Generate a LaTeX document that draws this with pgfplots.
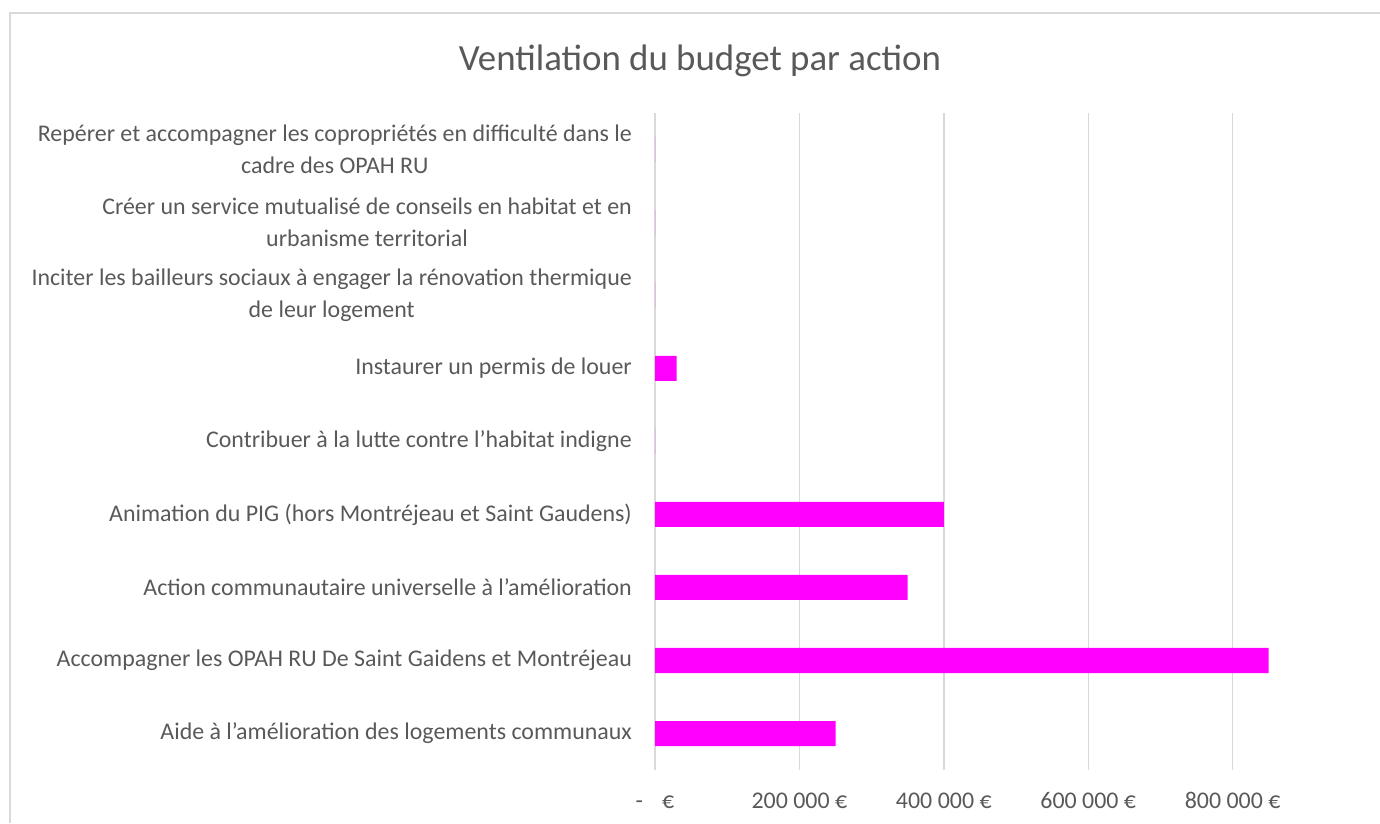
\documentclass[border=0pt]{standalone}
\usepackage{pgfplots}
\pgfplotsset{compat=1.18}
\usepackage{fontspec}
\setmainfont{Carlito}
\definecolor{txt}{HTML}{595959}
\definecolor{gridc}{HTML}{D9D9D9}
\definecolor{barc}{HTML}{FF00FF}
\pgfplotstableread{
y v
0 250000
1 850000
2 350000
3 400000
4 0
5 30000
6 0
7 0
8 0
}\budget
\begin{document}
\begin{tikzpicture}[x=1bp,y=1bp]
\begin{axis}[
  at={(655bp,53bp)}, anchor=south west,
  scale only axis, width=722bp, height=657bp,
  xmin=0, xmax=1000000, ymin=-0.5, ymax=8.5,
  xbar, bar width=25bp, bar shift=0pt,
  axis line style={draw=none},
  xmajorgrids, major grid style={gridc, line width=1.4bp},
  xtick={0,200000,400000,600000,800000},
  xticklabels={{-\kern0.8em€},{200 000 €},{400 000 €},{600 000 €},{800 000 €}},
  ytick={0,...,8},
  yticklabels={
    {Aide à l’amélioration des logements communaux},
    {Accompagner les OPAH RU De Saint Gaidens et Montréjeau},
    {Action communautaire universelle à l’amélioration},
    {Animation du PIG (hors Montréjeau et Saint Gaudens)},
    {Contribuer à la lutte contre l’habitat indigne},
    {Instaurer un permis de louer},
    {Inciter les bailleurs sociaux à engager la rénovation thermique\\de leur logement},
    {Créer un service mutualisé de conseils en habitat et en\\urbanisme territorial},
    {Repérer et accompagner les copropriétés en difficulté dans le\\cadre des OPAH RU}},
  major tick length=0pt,
  scaled x ticks=false,
  tick label style={font=\fontsize{24}{32}\selectfont, text=txt, inner sep=0pt},
  yticklabel style={align=center, anchor=east, xshift=-23bp},
  xticklabel style={anchor=base, yshift=-38bp},
  clip=false,
]
\addplot[fill=barc, draw=none] table[x=v, y=y] {\budget};
\end{axis}
\node[text=txt, font=\fontsize{37}{44}\selectfont, anchor=base] at (700,752) {Ventilation du budget par action};
\draw[gridc, line width=1.5bp] (10,0) -- (10,810) -- (1381,810);
\pgfresetboundingbox
\path[use as bounding box] (0,0) rectangle (1380,823);
\end{tikzpicture}
\end{document}
